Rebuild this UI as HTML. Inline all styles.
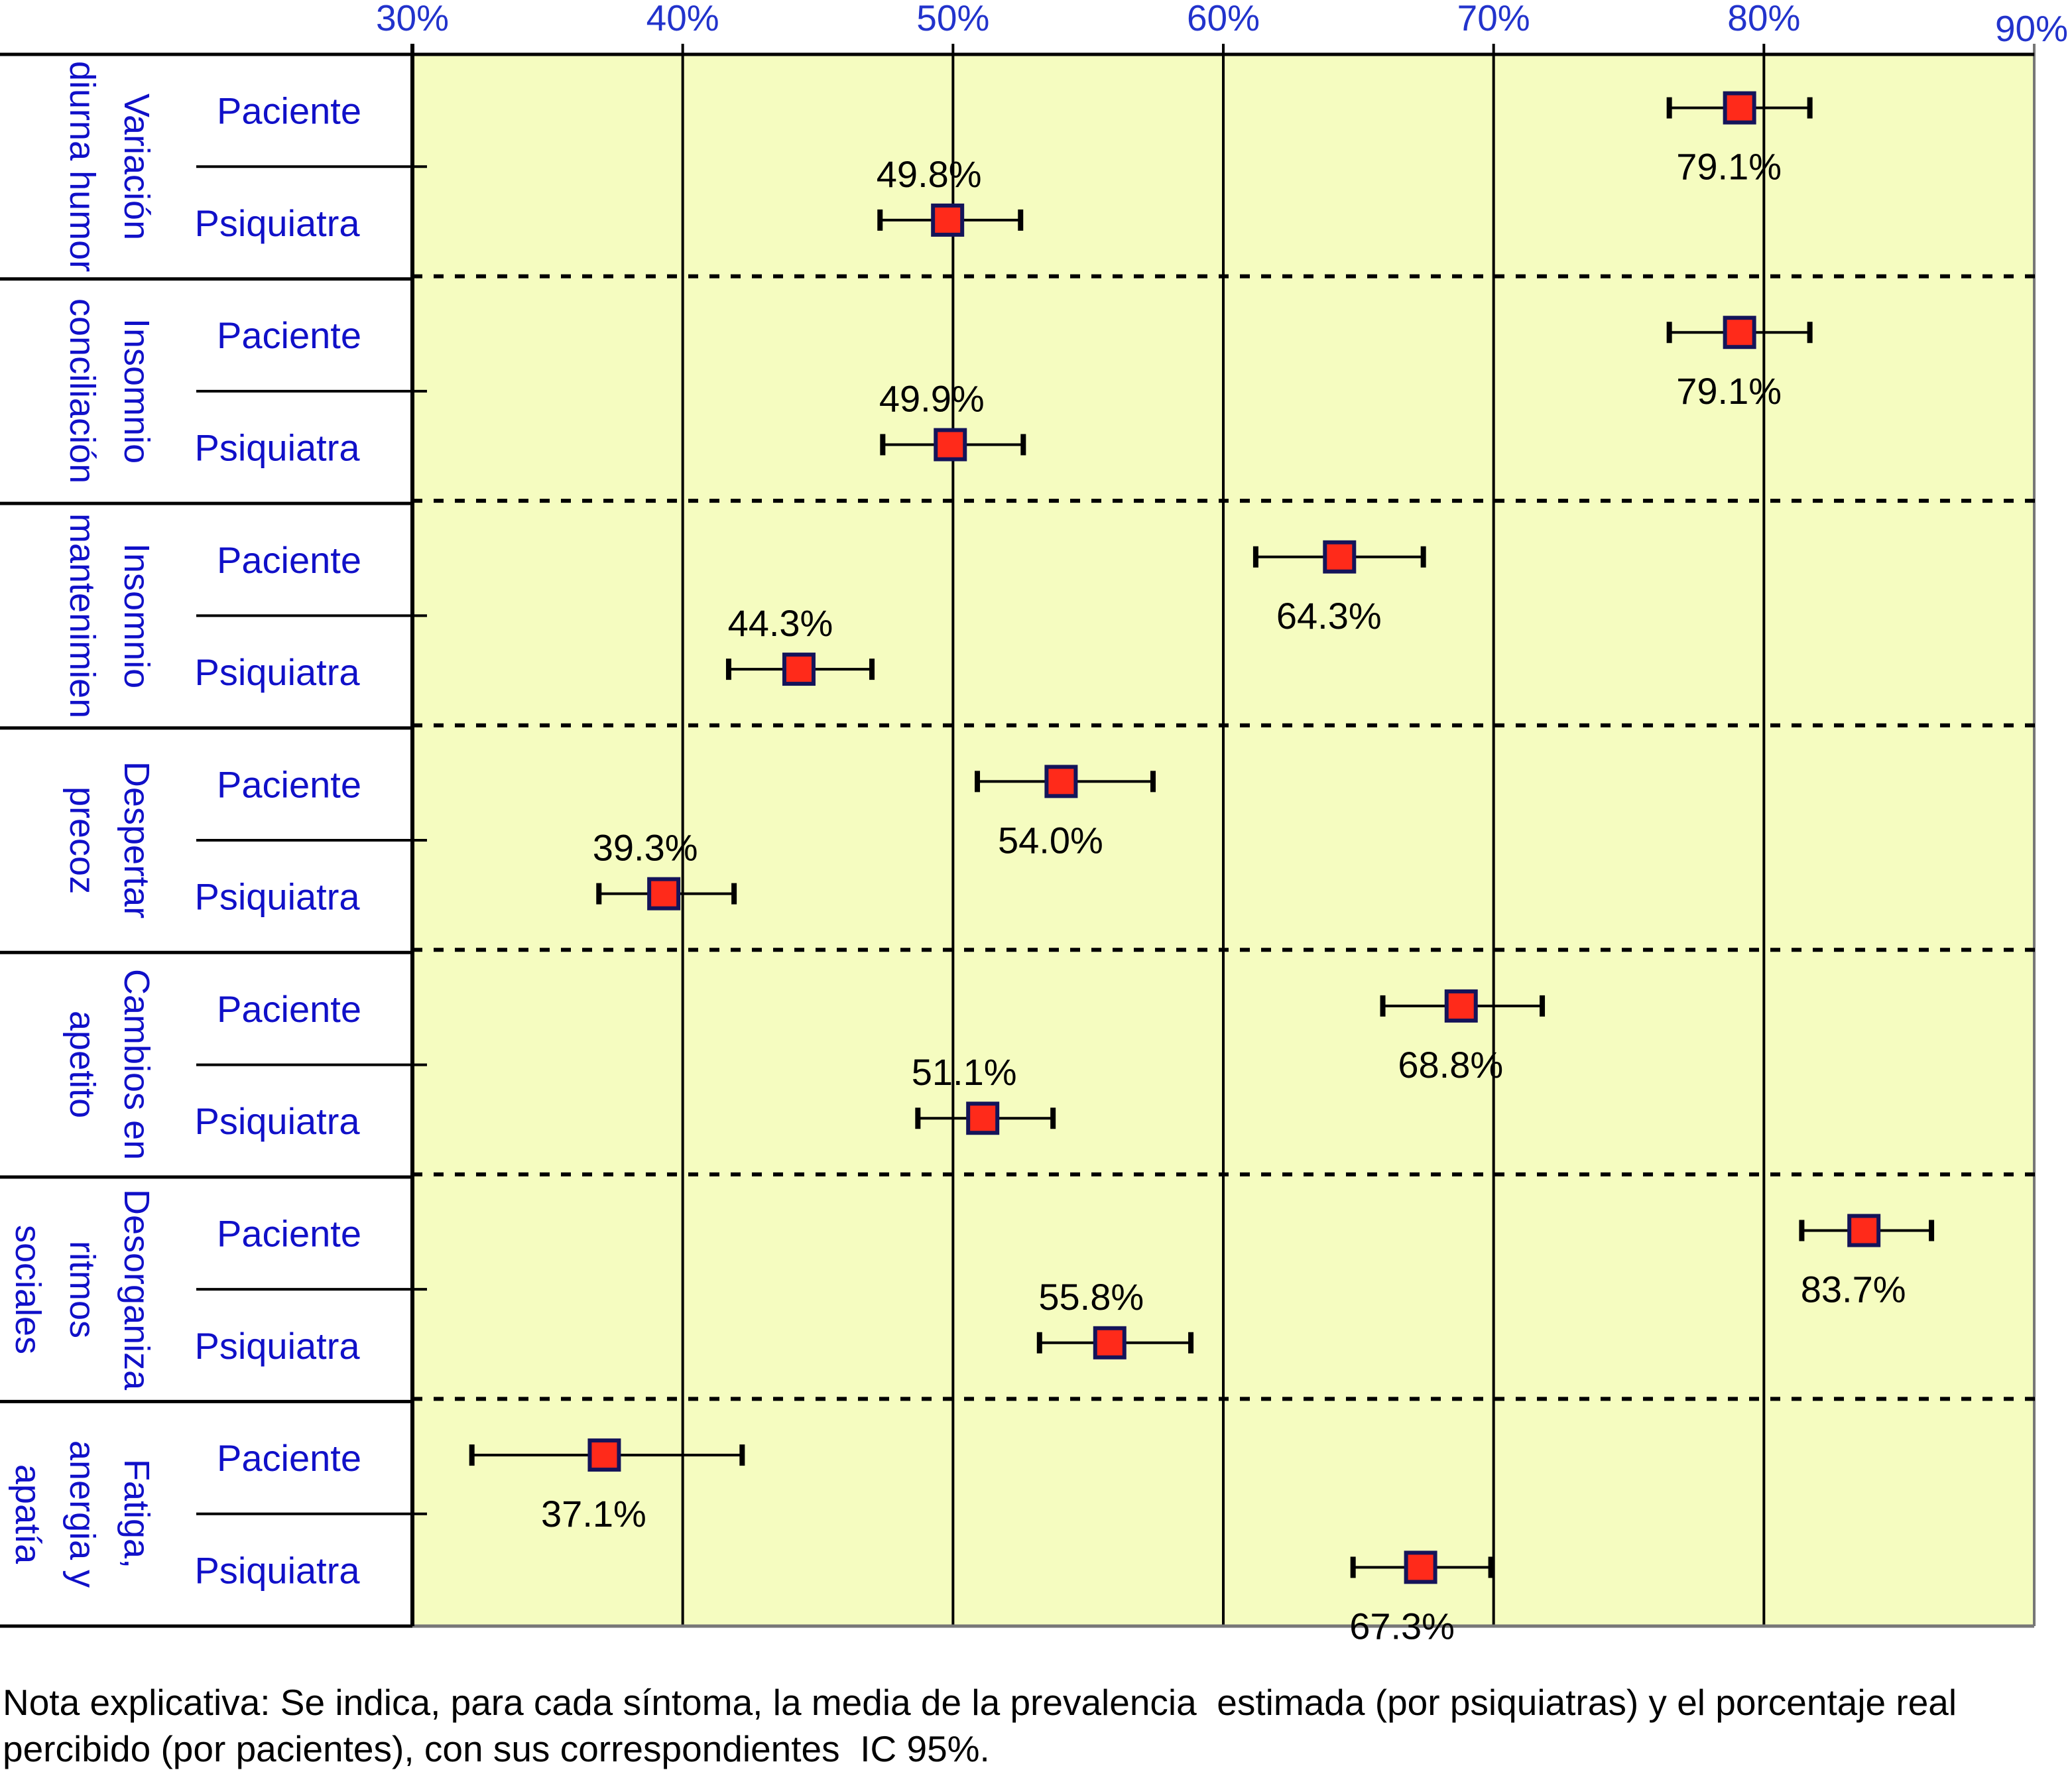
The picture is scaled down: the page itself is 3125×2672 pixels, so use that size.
<!DOCTYPE html>
<html><head><meta charset="utf-8">
<style>
html,body{margin:0;padding:0;background:#fff;}
body{width:3125px;height:2660px;overflow:hidden;position:relative;font-family:"Liberation Sans",sans-serif;}
.glabel{position:absolute;writing-mode:vertical-rl;text-align:center;color:#1010c8;font-size:54px;line-height:82px;white-space:nowrap;display:flex;align-items:center;justify-content:center;}
.note{position:absolute;left:4px;top:2532px;font-size:55px;line-height:70px;color:#000;white-space:nowrap;}
</style></head>
<body>
<svg id="chart" width="3125" height="2660" style="position:absolute;left:0;top:0" xmlns="http://www.w3.org/2000/svg"></svg>
<div class="note">Nota explicativa: Se indica, para cada síntoma, la media de la prevalencia&nbsp; estimada (por psiquiatras) y el porcentaje real<br>percibido (por pacientes), con sus correspondientes&nbsp; IC 95%.</div>
<script>
const groups = [["Variación","diurna humor"],["Insomnio","conciliación"],["Insomnio","mantenimien"],["Despertar","precoz"],["Cambios en","apetito"],["Desorganiza","ritmos","sociales"],["Fatiga,","anergia y","apatía"]];
const pacMean = [79.1,79.1,64.3,54.0,68.8,83.7,37.1];
const pacLo   = [76.5,76.5,61.2,50.9,65.9,81.4,32.2];
const pacHi   = [81.7,81.7,67.4,57.4,71.8,86.2,42.2];
const psiMean = [49.8,49.9,44.3,39.3,51.1,55.8,67.3];
const psiLo   = [47.3,47.4,41.7,36.9,48.7,53.2,64.8];
const psiHi   = [52.5,52.6,47.0,41.9,53.7,58.8,69.9];
const psiLabelBelow = [false,false,false,false,false,false,true];
const ticks = [30,40,50,60,70,80,90];
const tickLabels = ["30%","40%","50%","60%","70%","80%","90%"];

const NS="http://www.w3.org/2000/svg";
const svg=document.getElementById('chart');
const X0=622,X1=3068,Y0=82,Y1=2452,VMIN=30,VMAX=90;
const gh=(Y1-Y0)/groups.length;
function x(v){return X0+(v-VMIN)/(VMAX-VMIN)*(X1-X0);}
function y(gi,f){return Y0+gi*gh+f*gh;}
function el(tag,attrs,parent){const e=document.createElementNS(NS,tag);for(const k in attrs)e.setAttribute(k,attrs[k]);(parent||svg).appendChild(e);return e;}

let bg=el('rect',{x:X0,y:Y0,width:X1-X0,height:Y1-Y0,fill:'#f5fcc0'});



ticks.forEach((t,i)=>{
  const g=el('line',{x1:x(t),x2:x(t),y1:Y0-16,y2:Y1,stroke:i==ticks.length-1?'#777':'#000','stroke-width':i==0?6:4});
  
  
  const tx=el('text',{x:x(t)+(i==ticks.length-1?-4:0),y:i==ticks.length-1?62:46,'text-anchor':'middle','font-size':55,fill:'#2233cc','font-family':'Liberation Sans, sans-serif'});
  tx.textContent=tickLabels[i];
  
  
});

let ta=el('line',{x1:0,x2:X1,y1:Y0,y2:Y0,stroke:'#000','stroke-width':5});


let ba=el('line',{x1:0,x2:X1,y1:Y1,y2:Y1,stroke:'#000','stroke-width':5});


el('line',{x1:X0,x2:X1,y1:Y1,y2:Y1,stroke:'#777','stroke-width':5});

groups.forEach((lines,gi)=>{
  if(gi>0){
    const s=el('line',{x1:0,x2:X0,y1:y(gi,0),y2:y(gi,0),stroke:'#000','stroke-width':5});
    
    
    const d=el('line',{x1:X0,x2:3080,y1:y(gi,0)-4,y2:y(gi,0)-4,stroke:'#000','stroke-width':6,'stroke-dasharray':'15 17'});
    
    
  }
  const m=el('line',{x1:296,x2:644,y1:y(gi,0.5),y2:y(gi,0.5),stroke:'#000','stroke-width':4});
  
  
  const p=el('text',{x:436,y:y(gi,0.25)+20,'text-anchor':'middle','font-size':56,fill:'#1010c8','font-family':'Liberation Sans, sans-serif'});
  p.textContent='Paciente';
  
  
  const q=el('text',{x:418,y:y(gi,0.75)+20,'text-anchor':'middle','font-size':56,fill:'#1010c8','font-family':'Liberation Sans, sans-serif'});
  q.textContent='Psiquiatra';
  
  

  const dv=document.createElement('div');
  dv.className='glabel';
  
  
  const w=lines.length*82;
  dv.style.left=(247-w)+'px';
  dv.style.width=w+'px';
  dv.style.top=y(gi,0)+'px';
  dv.style.height=gh+'px';
  dv.innerHTML=lines.join('<br>');
  document.body.appendChild(dv);

  [[pacMean,pacLo,pacHi,0.25,true,'paciente',-16],[psiMean,psiLo,psiHi,0.75,psiLabelBelow[gi],'psiquiatra',-28]].forEach(([M,L,H,f,below,nm,off])=>{
    const cy=y(gi,f)-4;
    const e1=el('line',{x1:x(L[gi]),x2:x(H[gi]),y1:cy,y2:cy,stroke:'#000','stroke-width':4});
    
    
    [L[gi],H[gi]].forEach(v=>{
      const c=el('line',{x1:x(v),x2:x(v),y1:cy-16,y2:cy+16,stroke:'#000','stroke-width':8});
      
      
    });
    const r=el('rect',{x:x(M[gi])-22,y:cy-22,width:44,height:44,fill:'#ff2a1a',stroke:'#14145a','stroke-width':6});
    
    
    const t=el('text',{x:x(M[gi])+off,y:below?cy+108:cy-50,'text-anchor':'middle','font-size':56,fill:'#000','font-family':'Liberation Sans, sans-serif'});
    t.textContent=M[gi].toFixed(1)+'%';
    
    
  });
});
let la=el('line',{x1:X0,x2:X0,y1:Y0,y2:Y1,stroke:'#000','stroke-width':6});


</script>
</body></html>
